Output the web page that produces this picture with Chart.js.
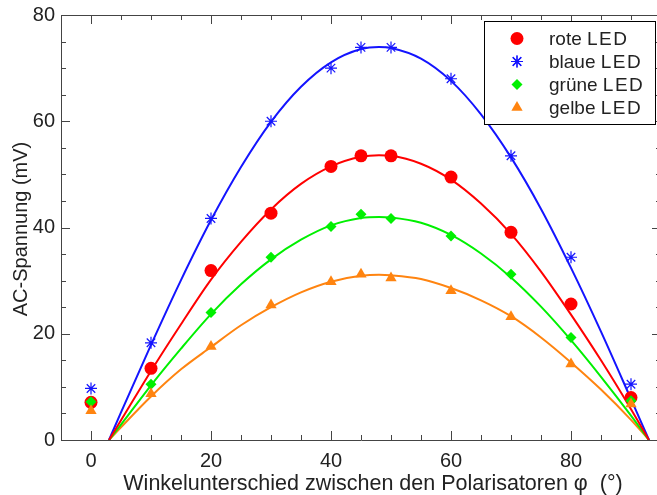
<!DOCTYPE html>
<html>
<head>
<meta charset="utf-8">
<script src="https://cdn.jsdelivr.net/npm/chart.js@4.4.1/dist/chart.umd.min.js"></script>
<style>
  html, body { margin: 0; padding: 0; background: #fff; overflow: hidden; }
  #wrap { width: 657px; height: 495px; overflow: hidden; }
  #wrap div { width: 665px; height: 495px; }
</style>
</head>
<body>
<div id="wrap"><div><canvas id="LedChart" width="665" height="495"></canvas></div></div>
<script>
// Messwerte
var winkel = [0, 10, 20, 30, 40, 45, 50, 60, 70, 80, 90];
var roteLED = [7.1, 13.5, 31.9, 42.7, 51.5, 53.5, 53.5, 49.5, 39.1, 25.6, 8.0];
var blaueLED = [9.7, 18.3, 41.7, 60.0, 70.0, 73.9, 73.9, 68.0, 53.5, 34.4, 10.5];
var grueneLED = [7.2, 10.5, 24.0, 34.4, 40.2, 42.5, 41.7, 38.4, 31.2, 19.3, 7.4];
var gelbeLED = [5.5, 8.7, 17.6, 25.4, 29.8, 31.2, 30.5, 28.1, 23.2, 14.3, 6.8];

// Fitkurven
var fitWinkel = [3, 5, 10, 15, 20, 25, 30, 35, 40, 45, 48, 50, 55, 60, 65, 70, 75, 80, 85, 90, 93];
var fitRot = [0, 3.7, 13.0, 21.8, 30.2, 37.3, 43.4, 48.2, 51.5, 53.3, 53.6, 53.5, 52.0, 49.0, 44.5, 38.8, 31.7, 23.6, 15.0, 5.8, 0];
var fitBlau = [0, 5.2, 17.9, 30.1, 41.4, 51.4, 59.9, 66.5, 71.1, 73.6, 74.0, 73.8, 71.8, 67.6, 61.3, 53.2, 43.5, 32.4, 20.4, 7.7, 0];
var fitGruen = [0, 2.9, 10.3, 17.2, 23.7, 29.3, 34.0, 37.7, 40.4, 41.8, 42.0, 41.9, 40.9, 38.6, 35.1, 30.6, 25.1, 18.8, 11.9, 4.6, 0];
var fitGelb = [0, 2.4, 8.2, 13.3, 17.5, 21.6, 25.0, 27.8, 29.8, 30.9, 31.1, 31.0, 30.3, 28.6, 26.3, 23.3, 19.3, 14.6, 9.5, 3.8, 0];

var legendLabels = ['rote LED', 'blaue LED', 'grüne LED', 'gelbe LED'];
var xTickLabels = [0, 20, 40, 60, 80];
var yTickLabels = [0, 20, 40, 60, 80];

var fontName = "'Liberation Sans', Arial, sans-serif";

function pts(xs, ys) {
    return xs.map(function (x, i) { return { x: x, y: ys[i] }; });
}

function fitLine(ys, color) {
    return {
        type: 'line',
        data: pts(fitWinkel, ys),
        borderColor: color,
        borderWidth: 2,
        pointRadius: 0,
        fill: false,
        cubicInterpolationMode: 'monotone',
        order: 10
    };
}

function messPunkte(label, ys, color, style, radius, order) {
    return {
        type: 'scatter',
        label: label,
        data: pts(winkel, ys),
        backgroundColor: color,
        borderColor: color,
        borderWidth: style === 'star' ? 1.2 : 0,
        pointStyle: style,
        pointRadius: radius,
        order: order
    };
}

var colRot = '#ff0000', colBlau = '#1414ff', colGruen = '#00f000', colGelb = '#ff8410';

// Striche nach innen, oben/rechts gespiegelt, Achsentitel, Legende mit Rahmen
var axisDeco = {
    id: 'axisDeco',
    afterDraw: function (chart) {
        var ctx = chart.ctx, a = chart.chartArea;
        var xs = chart.scales.x, ys = chart.scales.y;
        ctx.save();
        ctx.strokeStyle = '#444';
        ctx.lineWidth = 1;
        ctx.beginPath();
        ctx.moveTo(a.left, a.top + 0.5); ctx.lineTo(a.right, a.top + 0.5);
        ctx.moveTo(a.right - 0.5, a.top); ctx.lineTo(a.right - 0.5, a.bottom);
        var v, p, len;
        for (v = -5; v <= 95; v += 5) {
            p = Math.round(xs.getPixelForValue(v)) + 0.5;
            len = (v % 20 === 0) ? 9 : 5;
            ctx.moveTo(p, a.bottom); ctx.lineTo(p, a.bottom - len);
            ctx.moveTo(p, a.top); ctx.lineTo(p, a.top + len);
        }
        for (v = 0; v <= 80; v += 5) {
            p = Math.round(ys.getPixelForValue(v)) + 0.5;
            len = (v % 20 === 0) ? 9 : 5;
            ctx.moveTo(a.left, p); ctx.lineTo(a.left + len, p);
            ctx.moveTo(a.right, p); ctx.lineTo(a.right - len, p);
        }
        ctx.stroke();

        ctx.fillStyle = '#222';
        ctx.font = '21.5px ' + fontName;
        ctx.textAlign = 'center';
        ctx.textBaseline = 'alphabetic';
        ctx.fillText('Winkelunterschied zwischen den Polarisatoren \u03c6  (\u00b0)', 373, 490);
        ctx.save();
        ctx.translate(27, 229);
        ctx.rotate(-Math.PI / 2);
        ctx.font = '20px ' + fontName;
        ctx.fillText('AC-Spannung (mV)', 0, 0);
        ctx.restore();

        // Legende
        var lx = 484, ly = 21, lw = 171, lh = 103;
        ctx.fillStyle = '#fff';
        ctx.fillRect(lx, ly, lw, lh);
        ctx.strokeStyle = '#000';
        ctx.strokeRect(lx + 0.5, ly + 0.5, lw, lh);
        var rowY = [38.5, 61.5, 84.5, 107.5];
        chart.data.datasets.forEach(function (ds) {
            var i = legendLabels.indexOf(ds.label);
            if (i < 0) return;
            ctx.fillStyle = ds.backgroundColor;
            ctx.strokeStyle = ds.borderColor;
            ctx.lineWidth = ds.borderWidth || 1;
            Chart.helpers.drawPoint(ctx, { pointStyle: ds.pointStyle, radius: ds.pointRadius, borderWidth: ds.borderWidth }, 517, rowY[i]);
            if (ds.borderWidth) ctx.stroke();
            ctx.fillStyle = '#222';
            ctx.font = '19px ' + fontName;
            ctx.textAlign = 'left';
            ctx.textBaseline = 'middle';
            var parts = ds.label.split(' ');
            ctx.fillText(parts[0] + ' ', 549, rowY[i] + 1);
            var w = ctx.measureText(parts[0] + ' ').width;
            ctx.letterSpacing = '1.5px';
            ctx.fillText(parts[1], 549 + w, rowY[i] + 1);
            ctx.letterSpacing = '0px';
        });
        ctx.restore();
    }
};

new Chart(document.getElementById('LedChart'), {
    data: {
        datasets: [
            messPunkte(legendLabels[0], roteLED, colRot, 'circle', 6.5, 3),
            messPunkte(legendLabels[1], blaueLED, colBlau, 'star', 6, 2),
            messPunkte(legendLabels[2], grueneLED, colGruen, 'rectRot', 5.5, 1),
            messPunkte(legendLabels[3], gelbeLED, colGelb, 'triangle', 6.5, 0),
            fitLine(fitRot, colRot),
            fitLine(fitBlau, colBlau),
            fitLine(fitGruen, colGruen),
            fitLine(fitGelb, colGelb)
        ]
    },
    options: {
        responsive: false,
        animation: false,
        layout: { autoPadding: false, padding: { top: 15, right: 4, left: 0, bottom: 0 } },
        plugins: {
            legend: { display: false },
            tooltip: { enabled: false }
        },
        scales: {
            x: {
                type: 'linear',
                min: -5,
                max: 95,
                grid: { display: false, drawTicks: false },
                border: { display: true, color: '#444', width: 1 },
                ticks: {
                    stepSize: 5,
                    autoSkip: false,
                    maxRotation: 0,
                    padding: 9,
                    color: '#222',
                    font: { family: fontName, size: 20 },
                    callback: function (v) { return xTickLabels.indexOf(v) >= 0 ? String(v) : ''; }
                },
                afterFit: function (s) { s.height = 55; s.paddingLeft = 0; s.paddingRight = 0; }
            },
            y: {
                type: 'linear',
                min: 0,
                max: 80,
                grid: { display: false, drawTicks: false },
                border: { display: true, color: '#444', width: 1 },
                ticks: {
                    stepSize: 5,
                    autoSkip: false,
                    padding: 6,
                    color: '#222',
                    font: { family: fontName, size: 20 },
                    callback: function (v) { return yTickLabels.indexOf(v) >= 0 ? String(v) : ''; }
                },
                afterFit: function (s) { s.width = 61; s.paddingTop = 0; s.paddingBottom = 0; }
            }
        }
    },
    plugins: [axisDeco]
});
</script>
</body>
</html>
